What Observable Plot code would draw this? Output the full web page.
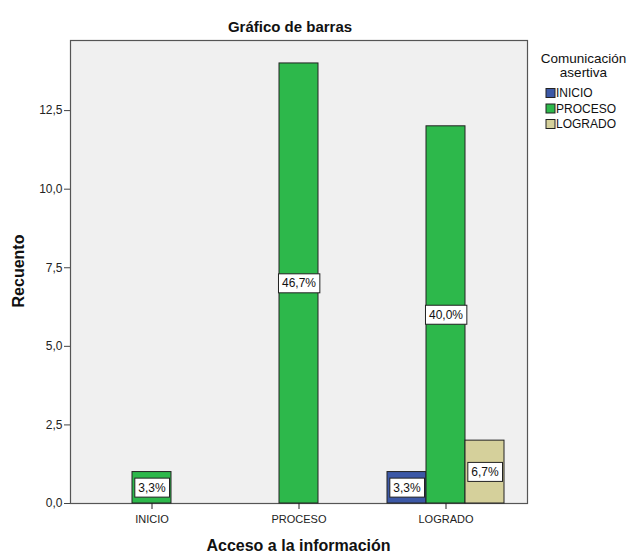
<!DOCTYPE html>
<html>
<head>
<meta charset="utf-8">
<script src="https://cdn.jsdelivr.net/npm/d3@7"></script>
<script src="https://cdn.jsdelivr.net/npm/@observablehq/plot@0.6"></script>
<style>
  body { margin: 0; background: #fff; }
  svg { font-family: "Liberation Sans", Arial, sans-serif; }
</style>
</head>
<body>
<div id="chart"></div>
<script>
// Categories (x groups) and series (legend)
const groups = ["INICIO", "PROCESO", "LOGRADO"];
const series = ["INICIO", "PROCESO", "LOGRADO"];
// Counts per series, one value per group
const seriesInicio  = [0, 0, 1];
const seriesProceso = [1, 14, 12];
const seriesLogrado = [0, 0, 2];
const colors = ["#3c58a6", "#2db84b", "#d5d09b"];
const yTicks = [0, 2.5, 5, 7.5, 10, 12.5];
const titleText = "Gráfico de barras";
const xLabel = "Acceso a la información";
const yLabel = "Recuento";
const legendTitle = ["Comunicación", "asertiva"];

const seriesValues = [seriesInicio, seriesProceso, seriesLogrado];
const total = d3.sum(seriesValues.flat());
const table = [];
series.forEach((s, j) => groups.forEach((g, i) => {
  table.push({group: g, series: s, count: seriesValues[j][i]});
}));
const data = table.filter(d => d.count > 0);
const comma = v => v.toFixed(1).replace(".", ",");
const pct = d => comma(d.count / total * 100) + "%";

const W = 630, H = 554, ML = 70;
function options(shift) {
  return {
    width: W, height: H,
    marginLeft: ML, marginRight: 103, marginTop: 40, marginBottom: 51,
    style: {fontFamily: "Liberation Sans, Arial, sans-serif", background: "transparent"},
    fx: {domain: groups, paddingInner: 0.2068, paddingOuter: 0.1525, label: null},
    x: {domain: series, padding: 0, axis: null},
    y: {domain: [0, 14.73], axis: null},
    color: {domain: series, range: colors},
    marks: [
      Plot.frame({facet: "super", fill: "#f0f0f0", stroke: "#555", strokeWidth: 1.2,
                  insetLeft: -shift, insetRight: -shift}),
      Plot.axisY({ticks: yTicks, tickFormat: comma, tickSize: 6, tickPadding: 2, dx: -shift,
                  fontSize: 12, label: null, stroke: "#444", color: "#222"}),
      Plot.axisFx({anchor: "bottom", tickSize: 6, tickPadding: 6, fontSize: 11, label: null, color: "#222"}),
      Plot.barY(data, {fx: "group", x: "series", y: "count", fill: "series", stroke: "#222", strokeWidth: 1}),
      Plot.text(data, {fx: "group", x: "series", y: d => d.count / 2, text: pct, fontSize: 12, fill: "#111"})
    ]
  };
}
// first pass: find where the left facet starts, so the frame and y axis sit on the plot edge
const probe = Plot.plot(options(0));
const shift = probe.scale("fx").apply(groups[0]) - ML;
const plot = Plot.plot(options(shift));
document.getElementById("chart").appendChild(plot);

const svg = d3.select(plot);
// white boxes behind percentage labels
svg.selectAll("g[aria-label='text'] text").each(function() {
  const b = this.getBBox();
  const r = document.createElementNS("http://www.w3.org/2000/svg", "rect");
  r.setAttribute("x", b.x - 3.5);
  r.setAttribute("y", b.y - 2.5);
  r.setAttribute("width", b.width + 7);
  r.setAttribute("height", b.height + 5);
  r.setAttribute("fill", "#fff");
  r.setAttribute("stroke", "#222");
  r.setAttribute("stroke-width", 1);
  const t = this.getAttribute("transform");
  if (t) r.setAttribute("transform", t);
  this.parentNode.insertBefore(r, this);
});

// title
svg.append("text").attr("x", 290).attr("y", 32).attr("text-anchor", "middle")
  .attr("font-size", 15).attr("font-weight", "bold").attr("fill", "#111").text(titleText);
// axis labels
svg.append("text").attr("x", 298.5).attr("y", 551).attr("text-anchor", "middle")
  .attr("font-size", 16).attr("font-weight", "bold").attr("fill", "#111").text(xLabel);
svg.append("text").attr("transform", "translate(24,271) rotate(-90)").attr("text-anchor", "middle")
  .attr("font-size", 16).attr("font-weight", "bold").attr("fill", "#111").text(yLabel);
// legend
const lg = svg.append("g").attr("font-size", 12).attr("fill", "#111");
lg.selectAll("text.lt").data(legendTitle).join("text").attr("class", "lt")
  .attr("x", 583.5).attr("y", (d, i) => 63 + i * 14).attr("text-anchor", "middle")
  .attr("font-size", 13.5).text(d => d);
const items = lg.selectAll("g.item").data(series).join("g").attr("class", "item")
  .attr("transform", (d, i) => `translate(546,${93 + i * 15.5})`);
items.append("rect").attr("x", 0).attr("y", -4.5).attr("width", 9).attr("height", 9)
  .attr("fill", (d, i) => colors[i]).attr("stroke", "#222");
items.append("text").attr("x", 10).attr("y", 0).attr("dy", "0.35em")
  .attr("text-anchor", "start").text(d => d);
</script>
</body>
</html>
